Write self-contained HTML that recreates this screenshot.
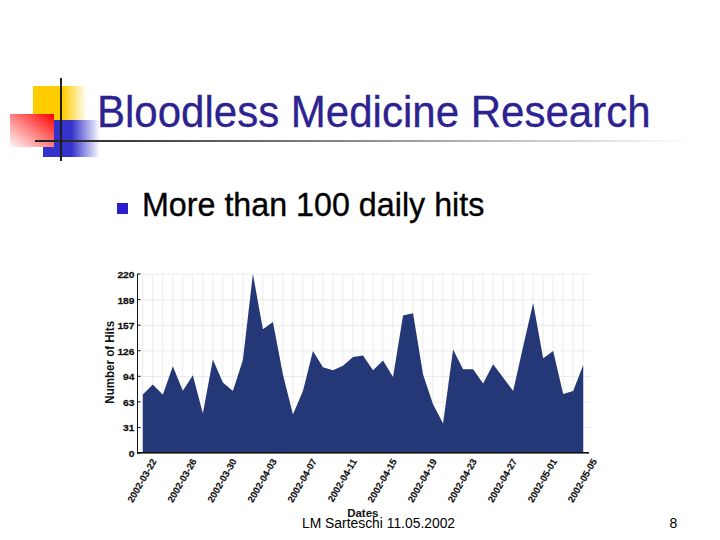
<!DOCTYPE html>
<html><head><meta charset="utf-8"><title>Bloodless Medicine Research</title>
<style>
html,body{margin:0;padding:0;background:#fff;}
body{width:720px;height:540px;position:relative;overflow:hidden;font-family:"Liberation Sans",sans-serif;}
.a{position:absolute;}
#yel{left:33px;top:86px;width:54px;height:34px;background:linear-gradient(to right,#ffcc00 0%,#ffcc00 55%,rgba(255,204,0,0) 100%);}
#blu{left:43px;top:120px;width:57px;height:37px;background:linear-gradient(to right,#3333cc 0%,#3333cc 50%,rgba(51,51,204,0) 100%);}
#red{left:10px;top:114px;width:44px;height:33px;background:linear-gradient(to bottom left,#ff0000 0%,#ff8080 50%,#fff8f8 100%);}
#vl{left:60px;top:78px;width:2px;height:83px;background:#1e1e1e;}
#hl{left:35px;top:140px;width:655px;height:2px;background:linear-gradient(to right,#1e1e1e 0%,#ffffff 100%);}
#title{left:96.8px;top:89.5px;font-size:44px;color:#2c2290;white-space:nowrap;transform-origin:0 0;transform:scaleX(0.955);line-height:1;-webkit-text-stroke:0.3px #2c2290;}
#bul{left:117px;top:203px;width:11px;height:11px;background:#2b1fcc;}
#btxt{left:142px;top:187.5px;font-size:33px;color:#000;white-space:nowrap;line-height:1;transform-origin:0 0;transform:scaleX(0.977);-webkit-text-stroke:0.35px #000;}
#foot{left:302px;top:516px;font-size:14px;color:#000;white-space:nowrap;line-height:1;transform-origin:0 0;transform:scaleX(0.99);}
#pg{left:669.5px;top:516px;font-size:14px;color:#000;white-space:nowrap;line-height:1;}
</style></head>
<body>
<div class="a" id="yel"></div>
<div class="a" id="blu"></div>
<div class="a" id="red"></div>
<div class="a" id="hl"></div>
<div class="a" id="vl"></div>
<div class="a" id="title">Bloodless Medicine Research</div>
<div class="a" id="bul"></div>
<div class="a" id="btxt">More than 100 daily hits</div>
<svg width="720" height="540" viewBox="0 0 720 540" style="position:absolute;left:0;top:0">
<g fill="#ebebeb"><rect x="142.20" y="274.0" width="1" height="179.0"/><rect x="152.21" y="274.0" width="1" height="179.0"/><rect x="162.22" y="274.0" width="1" height="179.0"/><rect x="172.23" y="274.0" width="1" height="179.0"/><rect x="182.24" y="274.0" width="1" height="179.0"/><rect x="192.25" y="274.0" width="1" height="179.0"/><rect x="202.25" y="274.0" width="1" height="179.0"/><rect x="212.26" y="274.0" width="1" height="179.0"/><rect x="222.27" y="274.0" width="1" height="179.0"/><rect x="232.28" y="274.0" width="1" height="179.0"/><rect x="242.29" y="274.0" width="1" height="179.0"/><rect x="252.30" y="274.0" width="1" height="179.0"/><rect x="262.31" y="274.0" width="1" height="179.0"/><rect x="272.32" y="274.0" width="1" height="179.0"/><rect x="282.33" y="274.0" width="1" height="179.0"/><rect x="292.34" y="274.0" width="1" height="179.0"/><rect x="302.35" y="274.0" width="1" height="179.0"/><rect x="312.35" y="274.0" width="1" height="179.0"/><rect x="322.36" y="274.0" width="1" height="179.0"/><rect x="332.37" y="274.0" width="1" height="179.0"/><rect x="342.38" y="274.0" width="1" height="179.0"/><rect x="352.39" y="274.0" width="1" height="179.0"/><rect x="362.40" y="274.0" width="1" height="179.0"/><rect x="372.41" y="274.0" width="1" height="179.0"/><rect x="382.42" y="274.0" width="1" height="179.0"/><rect x="392.43" y="274.0" width="1" height="179.0"/><rect x="402.44" y="274.0" width="1" height="179.0"/><rect x="412.45" y="274.0" width="1" height="179.0"/><rect x="422.45" y="274.0" width="1" height="179.0"/><rect x="432.46" y="274.0" width="1" height="179.0"/><rect x="442.47" y="274.0" width="1" height="179.0"/><rect x="452.48" y="274.0" width="1" height="179.0"/><rect x="462.49" y="274.0" width="1" height="179.0"/><rect x="472.50" y="274.0" width="1" height="179.0"/><rect x="482.51" y="274.0" width="1" height="179.0"/><rect x="492.52" y="274.0" width="1" height="179.0"/><rect x="502.53" y="274.0" width="1" height="179.0"/><rect x="512.54" y="274.0" width="1" height="179.0"/><rect x="522.55" y="274.0" width="1" height="179.0"/><rect x="532.55" y="274.0" width="1" height="179.0"/><rect x="542.56" y="274.0" width="1" height="179.0"/><rect x="552.57" y="274.0" width="1" height="179.0"/><rect x="562.58" y="274.0" width="1" height="179.0"/><rect x="572.59" y="274.0" width="1" height="179.0"/><rect x="582.60" y="274.0" width="1" height="179.0"/><rect x="138.0" y="273.70" width="452.5" height="1"/><rect x="138.0" y="299.27" width="452.5" height="1"/><rect x="138.0" y="324.84" width="452.5" height="1"/><rect x="138.0" y="350.41" width="452.5" height="1"/><rect x="138.0" y="375.99" width="452.5" height="1"/><rect x="138.0" y="401.56" width="452.5" height="1"/><rect x="138.0" y="427.13" width="452.5" height="1"/></g>
<polygon points="142.80,453.0 142.80,394.5 152.81,384.4 162.82,394.8 172.83,366.3 182.84,390.7 192.85,375.2 202.85,413.5 212.86,359.5 222.87,382.5 232.88,390.9 242.89,360.0 252.90,273.9 262.91,329.2 272.92,322.1 282.93,374.6 292.94,414.6 302.95,390.9 312.95,350.9 322.96,367.2 332.97,370.2 342.98,365.7 352.99,356.9 363.00,355.4 373.01,370.2 383.02,360.4 393.03,377.0 403.04,315.4 413.05,313.3 423.05,374.6 433.06,404.3 443.07,423.5 453.08,349.4 463.09,369.3 473.10,369.3 483.11,383.5 493.12,364.3 503.13,377.6 513.14,390.9 523.15,346.5 533.15,302.9 543.16,358.3 553.17,350.9 563.18,393.9 573.19,390.9 583.20,365.1 583.20,453.0" fill="#243877"/>
<g fill="#111">
<rect x="137.0" y="274.0" width="1" height="180.0"/>
<rect x="137.0" y="452.0" width="452.0" height="1.6"/>
<rect x="137.0" y="273.50" width="3.5" height="1"/><rect x="137.0" y="299.07" width="3.5" height="1"/><rect x="137.0" y="324.64" width="3.5" height="1"/><rect x="137.0" y="350.21" width="3.5" height="1"/><rect x="137.0" y="375.79" width="3.5" height="1"/><rect x="137.0" y="401.36" width="3.5" height="1"/><rect x="137.0" y="426.93" width="3.5" height="1"/><rect x="137.0" y="452.50" width="3.5" height="1"/>
</g>
<g font-family="Liberation Sans, sans-serif" font-weight="bold" font-size="9.5" fill="#111" stroke="#111" stroke-width="0.15">
<g font-size="9.4" stroke-width="0.25"><text transform="translate(134.5,278.00) scale(1.09,1)" text-anchor="end">220</text><text transform="translate(134.5,303.57) scale(1.09,1)" text-anchor="end">189</text><text transform="translate(134.5,329.14) scale(1.09,1)" text-anchor="end">157</text><text transform="translate(134.5,354.71) scale(1.09,1)" text-anchor="end">126</text><text transform="translate(134.5,380.29) scale(1.09,1)" text-anchor="end">94</text><text transform="translate(134.5,405.86) scale(1.09,1)" text-anchor="end">63</text><text transform="translate(134.5,431.43) scale(1.09,1)" text-anchor="end">31</text><text transform="translate(134.5,457.00) scale(1.09,1)" text-anchor="end">0</text></g>
<text transform="translate(154.00,459.50) rotate(-60)" x="0" y="3.4" text-anchor="end">2002-03-22</text><text transform="translate(194.04,459.50) rotate(-60)" x="0" y="3.4" text-anchor="end">2002-03-26</text><text transform="translate(234.07,459.50) rotate(-60)" x="0" y="3.4" text-anchor="end">2002-03-30</text><text transform="translate(274.11,459.50) rotate(-60)" x="0" y="3.4" text-anchor="end">2002-04-03</text><text transform="translate(314.15,459.50) rotate(-60)" x="0" y="3.4" text-anchor="end">2002-04-07</text><text transform="translate(354.18,459.50) rotate(-60)" x="0" y="3.4" text-anchor="end">2002-04-11</text><text transform="translate(394.22,459.50) rotate(-60)" x="0" y="3.4" text-anchor="end">2002-04-15</text><text transform="translate(434.25,459.50) rotate(-60)" x="0" y="3.4" text-anchor="end">2002-04-19</text><text transform="translate(474.29,459.50) rotate(-60)" x="0" y="3.4" text-anchor="end">2002-04-23</text><text transform="translate(514.33,459.50) rotate(-60)" x="0" y="3.4" text-anchor="end">2002-04-27</text><text transform="translate(554.36,459.50) rotate(-60)" x="0" y="3.4" text-anchor="end">2002-05-01</text><text transform="translate(594.40,459.50) rotate(-60)" x="0" y="3.4" text-anchor="end">2002-05-05</text>
</g>
<g font-family="Liberation Sans, sans-serif" font-weight="bold" font-size="11.5" fill="#111">
<text transform="translate(114.3,362.3) rotate(-90) scale(0.962,1)" font-size="12" text-anchor="middle">Number of Hits</text>
<text x="362.8" y="517" text-anchor="middle">Dates</text>
</g>
</svg>
<div class="a" id="foot">LM Sarteschi 11.05.2002</div>
<div class="a" id="pg">8</div>
</body></html>
